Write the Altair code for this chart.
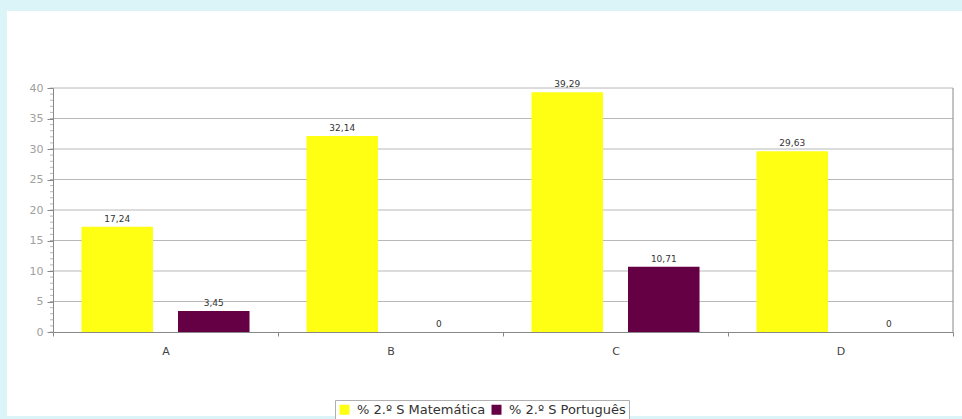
import altair as alt
import pandas as pd

categories = ["A", "B", "C", "D"]
series_names = ["% 2.º S Matemática", "% 2.º S Português"]
matematica = [17.24, 32.14, 39.29, 29.63]
portugues = [3.45, 0, 10.71, 0]
y_ticks = [0, 5, 10, 15, 20, 25, 30, 35, 40]
minor_ticks = list(range(0, 41))
colors = ["#ffff14", "#660044"]

rows = []
for c, m, p in zip(categories, matematica, portugues):
    rows.append({"cat": c, "serie": series_names[0], "v": m})
    rows.append({"cat": c, "serie": series_names[1], "v": p})
df = pd.DataFrame(rows)
df["label"] = df["v"].map(lambda v: ("%.2f" % v).replace(".", ",") if v != 0 else "0")

grid_df = pd.DataFrame({"g": y_ticks[1:]})
minor_df = pd.DataFrame({"m": minor_ticks})
dummy = pd.DataFrame({"d": [0]})

FONT = "DejaVu Sans"

x_enc = alt.X("cat:N", sort=categories,
              scale=alt.Scale(paddingInner=0, paddingOuter=0),
              axis=alt.Axis(title=None, labelAngle=0, tickBand="extent", tickSize=4,
                            domainColor="#888", tickColor="#888", labelColor="#444",
                            labelFontSize=11, labelPadding=9, zindex=1, labelFont=FONT))
xoff_enc = alt.XOffset("serie:N", sort=series_names,
                       scale=alt.Scale(paddingInner=0.259, paddingOuter=0.295))
y_scale = alt.Scale(domain=[0, 40], nice=False)
y_axis = alt.Axis(title=None, values=y_ticks, grid=False, tickSize=6,
                  labelOverlap=False,
                  domainColor="#888", tickColor="#888", labelColor="#a0a0a0",
                  labelFontSize=11, labelPadding=4, zindex=1, labelFont=FONT)

panel = alt.Chart(dummy).mark_rect(color="white").encode(
    x=alt.value(-46), x2=alt.value(930), y=alt.value(-77), y2=alt.value(328)
)

grid = alt.Chart(grid_df).mark_rule(color="#b8b8b8", strokeWidth=1).encode(
    y=alt.Y("g:Q", scale=y_scale, axis=y_axis)
)

minor = alt.Chart(minor_df).mark_tick(color="#999", orient="horizontal", size=3,
                                      thickness=1).encode(
    y=alt.Y("m:Q", scale=y_scale, axis=y_axis),
    x=alt.value(-1.5),
)

bars = alt.Chart(df).mark_bar().encode(
    x=x_enc,
    xOffset=xoff_enc,
    y=alt.Y("v:Q", scale=y_scale, axis=y_axis),
    color=alt.Color("serie:N", sort=series_names,
                    scale=alt.Scale(domain=series_names, range=colors),
                    legend=alt.Legend(title=None, orient="none", direction="horizontal",
                                      legendX=282, legendY=312, symbolType="square",
                                      symbolSize=100, symbolStrokeWidth=0,
                                      labelFontSize=13, labelFont=FONT, labelColor="#333",
                                      labelOffset=6,
                                      columnPadding=4, padding=3, strokeColor="#b0b0b0",
                                      fillColor="white", symbolOpacity=1)),
)

labels = alt.Chart(df).mark_text(baseline="bottom", dy=-3, fontSize=9, font=FONT,
                                 color="#333").encode(
    x=alt.X("cat:N", sort=categories),
    xOffset=alt.XOffset("serie:N", sort=series_names),
    y=alt.Y("v:Q", scale=y_scale, axis=y_axis),
    text="label:N",
)

border = alt.Chart(dummy).mark_rule(color="#888").encode(
    x=alt.value(900), y=alt.value(0), y2=alt.value(244)
)

chart = alt.layer(panel, grid, bars, labels, minor, border).properties(
    width=900, height=244,
    autosize=alt.AutoSizeParams(type="none"),
    padding={"left": 53, "top": 88, "right": 9, "bottom": 87},
    background="#dbf4f8",
).configure_view(stroke=None)

chart.save("out.html", embed_options={"renderer": "svg", "actions": False})
